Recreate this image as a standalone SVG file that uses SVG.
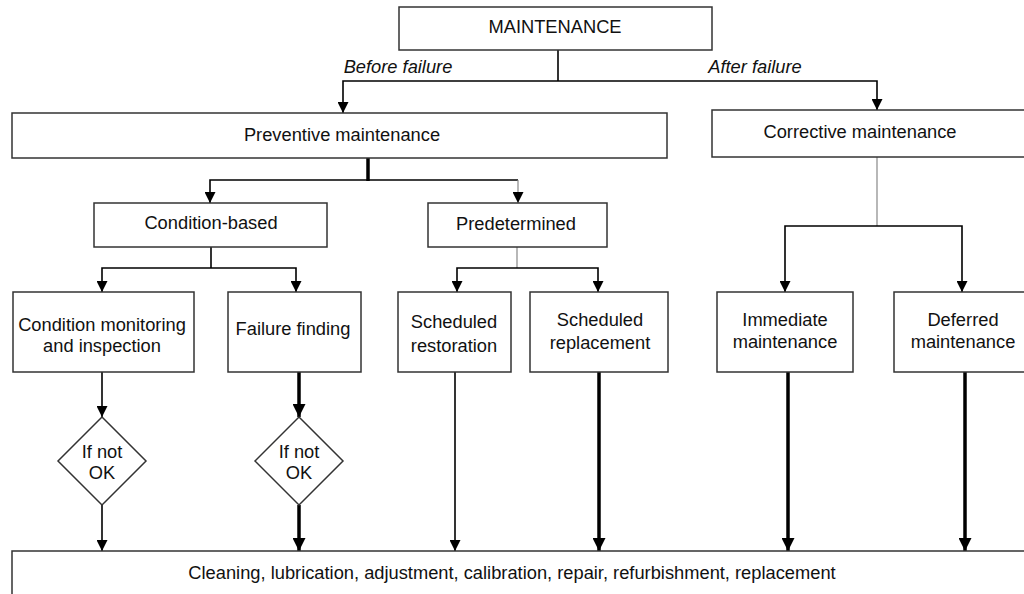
<svg xmlns="http://www.w3.org/2000/svg" width="1024" height="594" viewBox="0 0 1024 594">
<style>
.box{fill:#fff;stroke:#333;stroke-width:1.5}
.t{font-family:"Liberation Sans",Arial,sans-serif;font-size:18.3px;fill:#111;text-anchor:middle}
.it{font-style:italic}
.ln{fill:none;stroke:#000;stroke-width:1.6}
.thk{fill:none;stroke:#000;stroke-width:3.5}
.gry{fill:none;stroke:#888;stroke-width:1.2}
</style>
<defs>
<marker id="a" viewBox="0 0 10 10" refX="10" refY="5" markerUnits="userSpaceOnUse" markerWidth="11" markerHeight="11" orient="auto"><path d="M0,0L10,5L0,10z" fill="#000"/></marker>
<marker id="b" viewBox="0 0 10 10" refX="10" refY="5" markerUnits="userSpaceOnUse" markerWidth="13" markerHeight="13" orient="auto"><path d="M0,0L10,5L0,10z" fill="#000"/></marker>
</defs>
<rect width="1024" height="594" fill="#fff"/>
<g id="connectors">
<path class="ln" d="M558,50V81"/>
<path class="ln" d="M558,81H343V113" marker-end="url(#a)"/>
<path class="ln" d="M558,81H877V110" marker-end="url(#a)"/>
<path class="thk" d="M368,158V181"/>
<path class="ln" d="M368,180H210V203" marker-end="url(#a)"/>
<path class="ln" d="M368,180H518"/>
<path class="gry" d="M518,180V203" marker-end="url(#a)"/>
<path class="ln" d="M211,246V268"/>
<path class="ln" d="M211,268H102V292" marker-end="url(#a)"/>
<path class="ln" d="M211,268H296V292" marker-end="url(#a)"/>
<path class="gry" d="M517,246V268"/>
<path class="ln" d="M517,268H457V292" marker-end="url(#a)"/>
<path class="ln" d="M517,268H598V292" marker-end="url(#a)"/>
<path class="gry" d="M877,157V226"/>
<path class="ln" d="M877,226H785V292" marker-end="url(#a)"/>
<path class="ln" d="M877,226H962V292" marker-end="url(#a)"/>
<path class="ln" d="M102,372V417" marker-end="url(#a)"/>
<path class="ln" d="M102,505V551" marker-end="url(#a)"/>
<path class="thk" d="M299,372V417" marker-end="url(#b)"/>
<path class="thk" d="M299,505V551" marker-end="url(#b)"/>
<path class="ln" d="M455,372V551" marker-end="url(#a)"/>
<path class="thk" d="M599,372V551" marker-end="url(#b)"/>
<path class="thk" d="M788,372V551" marker-end="url(#b)"/>
<path class="thk" d="M965,372V551" marker-end="url(#b)"/>
</g>
<g id="labels">
<text class="t it" x="398" y="73">Before failure</text>
<text class="t it" x="755" y="73">After failure</text>
</g>
<g id="maintenance"><rect class="box" x="399" y="7" width="313" height="43"/><text class="t" x="555" y="33">MAINTENANCE</text></g>
<g id="preventive"><rect class="box" x="12" y="113" width="655" height="45"/><text class="t" x="342" y="141">Preventive maintenance</text></g>
<g id="corrective"><rect class="box" x="712" y="110" width="320" height="47"/><text class="t" x="860" y="138">Corrective maintenance</text></g>
<g id="condition-based"><rect class="box" x="94" y="203" width="233" height="44"/><text class="t" x="211" y="229">Condition-based</text></g>
<g id="predetermined"><rect class="box" x="428" y="203" width="179" height="44"/><text class="t" x="516" y="230">Predetermined</text></g>
<g id="condition-monitoring"><rect class="box" x="13" y="292" width="181" height="80"/><text class="t" x="102" y="331">Condition monitoring</text><text class="t" x="102" y="352">and inspection</text></g>
<g id="failure-finding"><rect class="box" x="228" y="292" width="133" height="80"/><text class="t" x="293" y="335">Failure finding</text></g>
<g id="scheduled-restoration"><rect class="box" x="398" y="292" width="113" height="80"/><text class="t" x="454" y="328">Scheduled</text><text class="t" x="454" y="352">restoration</text></g>
<g id="scheduled-replacement"><rect class="box" x="530" y="292" width="138" height="80"/><text class="t" x="600" y="326">Scheduled</text><text class="t" x="600" y="349">replacement</text></g>
<g id="immediate"><rect class="box" x="717" y="292" width="136" height="80"/><text class="t" x="785" y="326">Immediate</text><text class="t" x="785" y="348">maintenance</text></g>
<g id="deferred"><rect class="box" x="894" y="292" width="140" height="80"/><text class="t" x="963" y="326">Deferred</text><text class="t" x="963" y="348">maintenance</text></g>
<g id="ifnotok1"><polygon class="box" points="102,417 146,461 102,505 58,461"/><text class="t" x="102" y="458">If not</text><text class="t" x="102" y="479">OK</text></g>
<g id="ifnotok2"><polygon class="box" points="299,417 343,461 299,505 255,461"/><text class="t" x="299" y="458">If not</text><text class="t" x="299" y="479">OK</text></g>
<g id="actions"><rect class="box" x="12" y="551" width="1030" height="60"/><text class="t" x="512" y="579">Cleaning, lubrication, adjustment, calibration, repair, refurbishment, replacement</text></g>
</svg>
